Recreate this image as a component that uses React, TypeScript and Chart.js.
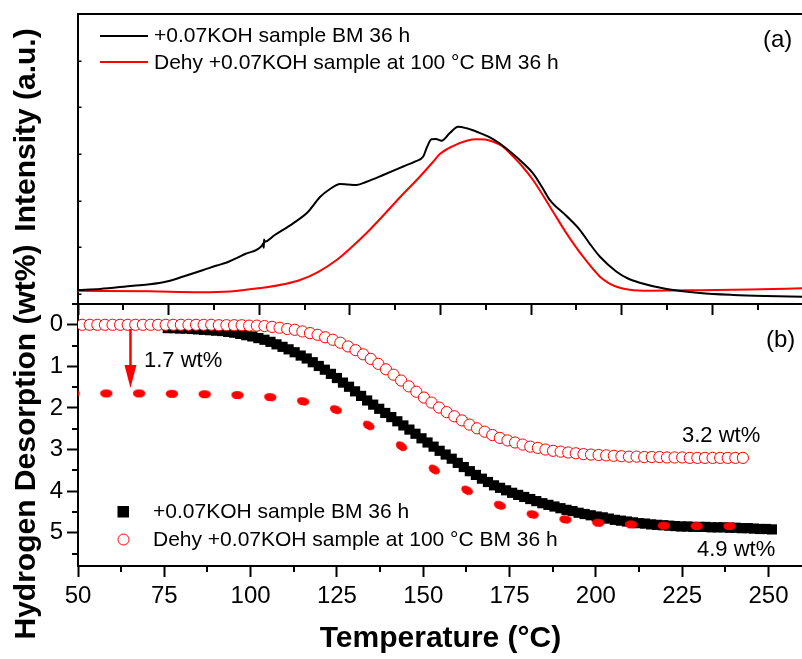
import React, { useEffect, useRef } from "react";
import { Chart, registerables } from "chart.js";

Chart.register(...registerables);

const FONT = "'Liberation Sans', Arial, Helvetica, sans-serif";
Chart.defaults.font.family = FONT;

// ---------- panel (a): TPD intensity ----------
const tprBlackT = [50.0, 56.4, 66.0, 70.8, 75.7, 80.5, 86.3, 90.2, 93.1, 98.4, 103.4, 103.6, 103.8, 103.9, 104.1, 107.0, 112.3, 116.6, 120.1, 123.0, 125.9, 128.2, 130.7, 133.6, 138.4, 144.2, 147.6, 150.0, 151.1, 152.4, 153.7, 155.3, 157.7, 160.1, 162.6, 165.9, 169.3, 172.2, 176.0, 178.9, 181.8, 184.4, 186.7, 191.5, 195.4, 198.3, 201.2, 206.0, 209.3, 212.7, 220.5, 230.1, 239.8, 249.2, 259.9];
const tprBlackI = [0.086, 0.107, 0.178, 0.208, 0.268, 0.375, 0.514, 0.611, 0.675, 0.857, 1.05, 1.08, 0.99, 1.17, 1.12, 1.264, 1.515, 1.757, 2.078, 2.25, 2.357, 2.346, 2.336, 2.406, 2.55, 2.732, 2.839, 2.946, 3.15, 3.315, 3.321, 3.285, 3.45, 3.585, 3.55, 3.465, 3.358, 3.225, 3.0, 2.807, 2.586, 2.293, 2.014, 1.671, 1.371, 1.071, 0.799, 0.478, 0.332, 0.242, 0.107, 0.021, -0.021, -0.043, -0.058];
const tprRedT = [50.0, 70.8, 85.3, 94.0, 99.8, 104.6, 109.9, 114.3, 119.5, 124.9, 129.3, 133.6, 138.3, 143.2, 149.0, 152.8, 154.8, 158.6, 162.6, 165.5, 167.9, 170.3, 172.8, 175.1, 178.6, 181.8, 186.7, 191.5, 196.3, 201.2, 203.5, 206.0, 209.8, 215.6, 230.1, 244.6, 259.9];
const tprRedI = [0.071, 0.058, 0.039, 0.054, 0.101, 0.144, 0.214, 0.3, 0.471, 0.729, 1.007, 1.307, 1.671, 2.068, 2.513, 2.828, 3.0, 3.171, 3.285, 3.315, 3.311, 3.263, 3.171, 3.015, 2.743, 2.443, 1.871, 1.3, 0.799, 0.371, 0.246, 0.156, 0.092, 0.071, 0.081, 0.096, 0.122];

// ---------- panel (b): hydrogen desorption ----------
const milledT = [76, 77.75, 79.5, 81.25, 83, 84.75, 86.5, 88.25, 90, 91.75, 93.5, 95.25, 97, 98.75, 100.5, 102.25, 104, 105.75, 107.5, 109.25, 111, 112.75, 114.5, 116.25, 118, 119.75, 121.5, 123.25, 125, 126.75, 128.5, 130.25, 132, 133.75, 135.5, 137.25, 139, 140.75, 142.5, 144.25, 146, 147.75, 149.5, 151.25, 153, 154.75, 156.5, 158.25, 160, 161.75, 163.5, 165.25, 167, 168.75, 170.5, 172.25, 174, 175.75, 177.5, 179.25, 181, 182.75, 184.5, 186.25, 188, 189.75, 191.5, 193.25, 195, 196.75, 198.5, 200.25, 202, 203.75, 205.5, 207.25, 209, 210.75, 212.5, 214.25, 216, 217.75, 219.5, 221.25, 223, 224.75, 226.5, 228.25, 230, 231.75, 233.5, 235.25, 237, 238.75, 240.5, 242.25, 244, 245.75, 247.5, 249.25, 251];
const milledWt = [0.08, 0.08, 0.09, 0.09, 0.1, 0.11, 0.12, 0.13, 0.14, 0.15, 0.17, 0.19, 0.22, 0.25, 0.28, 0.32, 0.36, 0.41, 0.47, 0.53, 0.59, 0.66, 0.74, 0.81, 0.9, 0.99, 1.08, 1.18, 1.28, 1.39, 1.49, 1.6, 1.71, 1.82, 1.92, 2.02, 2.12, 2.22, 2.32, 2.42, 2.52, 2.62, 2.73, 2.83, 2.93, 3.03, 3.12, 3.22, 3.32, 3.42, 3.52, 3.61, 3.7, 3.78, 3.86, 3.92, 3.98, 4.04, 4.09, 4.14, 4.19, 4.24, 4.29, 4.33, 4.37, 4.41, 4.45, 4.48, 4.52, 4.55, 4.58, 4.61, 4.63, 4.66, 4.69, 4.71, 4.73, 4.75, 4.77, 4.78, 4.8, 4.81, 4.82, 4.83, 4.84, 4.85, 4.85, 4.86, 4.86, 4.86, 4.87, 4.87, 4.87, 4.88, 4.88, 4.89, 4.89, 4.9, 4.91, 4.91, 4.92];
const dehyT = [51.2, 53.4, 55.6, 57.8, 60, 62.2, 64.4, 66.6, 68.8, 71, 73.2, 75.4, 77.6, 79.8, 82, 84.2, 86.4, 88.6, 90.8, 93, 95.2, 97.4, 99.6, 101.8, 104, 106.2, 108.4, 110.6, 112.8, 115, 117.2, 119.4, 121.6, 123.8, 126, 128.2, 130.4, 132.6, 134.8, 137, 139.2, 141.4, 143.6, 145.8, 148, 150.2, 152.4, 154.6, 156.8, 159, 161.2, 163.4, 165.6, 167.8, 170, 172.2, 174.4, 176.6, 178.8, 181, 183.2, 185.4, 187.6, 189.8, 192, 194.2, 196.4, 198.6, 200.8, 203, 205.2, 207.4, 209.6, 211.8, 214, 216.2, 218.4, 220.6, 222.8, 225, 227.2, 229.4, 231.6, 233.8, 236, 238.2, 240.4, 242.6];
const dehyWt = [0, 0, 0, 0, 0, 0, 0, 0, 0, 0, 0, 0, 0, 0, 0, 0, 0, 0, 0.01, 0.01, 0.01, 0.01, 0.02, 0.02, 0.03, 0.05, 0.07, 0.1, 0.12, 0.16, 0.2, 0.24, 0.3, 0.36, 0.43, 0.52, 0.61, 0.71, 0.82, 0.94, 1.07, 1.2, 1.34, 1.48, 1.61, 1.75, 1.87, 1.99, 2.1, 2.2, 2.3, 2.4, 2.49, 2.57, 2.65, 2.72, 2.78, 2.83, 2.88, 2.93, 2.96, 3.0, 3.03, 3.05, 3.07, 3.09, 3.11, 3.12, 3.13, 3.14, 3.15, 3.16, 3.17, 3.17, 3.18, 3.18, 3.18, 3.19, 3.19, 3.19, 3.2, 3.2, 3.2, 3.2, 3.2, 3.2, 3.2, 3.2];
const shiftedT = [48.7, 58.2, 67.7, 77.2, 86.7, 96.2, 105.7, 115.2, 124.7, 134.2, 143.7, 153.2, 162.7, 172.2, 181.7, 191.2, 200.7, 210.2, 219.7, 229.2, 238.7];
const shiftedWt = [1.65, 1.65, 1.65, 1.66, 1.67, 1.69, 1.74, 1.84, 2.04, 2.42, 2.92, 3.48, 3.98, 4.34, 4.56, 4.68, 4.76, 4.8, 4.83, 4.84, 4.84];

// ---------- ticks ----------
const xMajorTicks = [50, 75, 100, 125, 150, 175, 200, 225, 250];
const xMinorTicks = [62.5, 87.5, 112.5, 137.5, 162.5, 187.5, 212.5, 237.5];
const wtMajorTicks = [0, 1, 2, 3, 4, 5];
const wtMinorTicks = [-0.5, 0.5, 1.5, 2.5, 3.5, 4.5, 5.5];
const topXMajor = [50, 76.25, 102.5, 128.75, 155, 181.25, 207.5, 233.75, 260];
const topXMinor = [63.125, 89.375, 115.625, 141.875, 168.125, 194.375, 220.625, 246.875];
const intensityTicks = [0, 1, 2, 3, 4, 5, 6];

// ---------- texts ----------
const seriesNames = ["+0.07KOH sample BM 36 h", "Dehy +0.07KOH sample at 100 °C BM 36 h"];
const arrowT = 65.2;
const arrowFromWt = 0.1;
const arrowToWt = 1.52;
const lossLabel = "1.7 wt%";
const dehyLabel = "3.2 wt%";
const milledLabel = "4.9 wt%";

const pts = (xs: number[], ys: number[]) => xs.map((x, i) => ({ x, y: ys[i] }));

function seg(ctx: CanvasRenderingContext2D, x0: number, y0: number, x1: number, y1: number) {
  ctx.beginPath();
  ctx.moveTo(x0, y0);
  ctx.lineTo(x1, y1);
  ctx.stroke();
}

const topDecor = {
  id: "topDecor",
  afterDraw(chart: any) {
    const { ctx, chartArea: ca, scales } = chart;
    const xs = scales.x, ys = scales.y;
    ctx.save();
    ctx.strokeStyle = "#000";
    ctx.lineWidth = 2;
    seg(ctx, ca.left - 1, ca.top, ca.right + 2, ca.top);
    topXMinor.forEach((v) => {
      const x = Math.round(xs.getPixelForValue(v));
      seg(ctx, x, ca.bottom, x, ca.bottom + 6);
    });
    ctx.lineWidth = 1.5;
    intensityTicks.forEach((v) => {
      const y = Math.round(ys.getPixelForValue(v)) + 0.25;
      seg(ctx, ca.left, y, ca.left + 3.5, y);
    });
    // legend
    ctx.lineWidth = 2;
    ctx.strokeStyle = "#000";
    seg(ctx, 100, 36, 148, 36);
    ctx.strokeStyle = "#ff0000";
    seg(ctx, 100, 62, 148, 62);
    ctx.fillStyle = "#000";
    ctx.font = `21px ${FONT}`;
    ctx.textAlign = "left";
    ctx.textBaseline = "middle";
    ctx.fillText(seriesNames[0], 154, 36);
    ctx.fillText(seriesNames[1], 154, 63);
    ctx.font = `24px ${FONT}`;
    ctx.fillText("(a)", 763, 40);
    // y title
    ctx.font = `bold 30px ${FONT}`;
    ctx.translate(35, 130);
    ctx.rotate(-Math.PI / 2);
    ctx.textAlign = "center";
    ctx.textBaseline = "alphabetic";
    ctx.fillText("Intensity (a.u.)", 0, 0);
    ctx.restore();
  },
};

const bottomDecor = {
  id: "bottomDecor",
  afterDraw(chart: any) {
    const { ctx, chartArea: ca, scales } = chart;
    const xs = scales.x, ys = scales.y;
    ctx.save();
    ctx.strokeStyle = "#000";
    ctx.lineWidth = 2;
    xMinorTicks.forEach((v) => {
      const x = Math.round(xs.getPixelForValue(v));
      seg(ctx, x, ca.bottom, x, ca.bottom + 6);
    });
    wtMinorTicks.forEach((v) => {
      const y = Math.round(ys.getPixelForValue(v));
      seg(ctx, ca.left - 6, y, ca.left, y);
    });
    // arrow
    const ax = xs.getPixelForValue(arrowT);
    const ay0 = ys.getPixelForValue(arrowFromWt);
    const ay1 = ys.getPixelForValue(arrowToWt);
    ctx.strokeStyle = "#ff0000";
    ctx.fillStyle = "#ff0000";
    ctx.lineWidth = 2.5;
    seg(ctx, ax, ay0, ax, ay1 - 20);
    ctx.beginPath();
    ctx.moveTo(ax - 6, ay1 - 23);
    ctx.lineTo(ax + 6, ay1 - 23);
    ctx.lineTo(ax, ay1);
    ctx.closePath();
    ctx.fill();
    // labels
    ctx.fillStyle = "#000";
    ctx.textAlign = "left";
    ctx.textBaseline = "middle";
    ctx.font = `22px ${FONT}`;
    ctx.fillText(lossLabel, 144, 361);
    ctx.fillText(dehyLabel, 682, 436);
    ctx.fillText(milledLabel, 697, 550);
    ctx.font = `24px ${FONT}`;
    ctx.fillText("(b)", 766, 340);
    // legend
    ctx.fillStyle = "#000";
    ctx.fillRect(117.5, 506, 11.5, 11.5);
    ctx.beginPath();
    ctx.arc(123.5, 539.5, 5.5, 0, Math.PI * 2);
    ctx.fillStyle = "#fff";
    ctx.fill();
    ctx.strokeStyle = "#ff0000";
    ctx.lineWidth = 1;
    ctx.stroke();
    ctx.fillStyle = "#000";
    ctx.font = `21px ${FONT}`;
    ctx.fillText(seriesNames[0], 153, 512);
    ctx.fillText(seriesNames[1], 153, 540);
    // y title
    ctx.font = `bold 30px ${FONT}`;
    ctx.translate(35, 442);
    ctx.rotate(-Math.PI / 2);
    ctx.textAlign = "center";
    ctx.textBaseline = "alphabetic";
    ctx.fillText("Hydrogen Desorption (wt%)", 0, 0);
    ctx.restore();
  },
};

function makeEllipse() {
  const c = document.createElement("canvas");
  c.width = 14;
  c.height = 10;
  const g = c.getContext("2d")!;
  g.fillStyle = "#ff0000";
  g.beginPath();
  g.ellipse(7, 5, 6.2, 4.1, 0, 0, Math.PI * 2);
  g.fill();
  return c;
}

export default function App() {
  const topRef = useRef<HTMLCanvasElement>(null);
  const botRef = useRef<HTMLCanvasElement>(null);

  useEffect(() => {
    const shiftedPts = pts(shiftedT, shiftedWt);
    const ellipse = makeEllipse();

    const top = new Chart(topRef.current!, {
      type: "line",
      data: {
        datasets: [
          {
            label: seriesNames[0],
            data: pts(tprBlackT, tprBlackI),
            borderColor: "#000",
            borderWidth: 2,
            pointRadius: 0,
            cubicInterpolationMode: "monotone",
            fill: false,
            clip: 0,
          } as any,
          {
            label: seriesNames[1],
            data: pts(tprRedT, tprRedI),
            borderColor: "#ff0000",
            borderWidth: 2,
            pointRadius: 0,
            cubicInterpolationMode: "monotone",
            fill: false,
            clip: 0,
          } as any,
        ],
      },
      options: {
        animation: false,
        responsive: false,
        maintainAspectRatio: false,
        events: [],
        layout: { padding: { top: 14, right: 7, left: 0, bottom: 0 }, autoPadding: false } as any,
        plugins: { legend: { display: false }, tooltip: { enabled: false } },
        scales: {
          x: {
            type: "linear",
            min: 50,
            max: 260,
            afterBuildTicks: (s: any) => {
              s.ticks = topXMajor.map((v) => ({ value: v }));
            },
            afterFit: (s: any) => {
              s.height = 355;
            },
            ticks: { display: false },
            grid: { display: true, drawOnChartArea: false, drawTicks: true, tickLength: 11, tickWidth: 2, tickColor: "#000" },
            border: { display: true, color: "#000", width: 2 },
          },
          y: {
            type: "linear",
            min: -0.214,
            max: 6,
            afterBuildTicks: (s: any) => {
              s.ticks = intensityTicks.map((v) => ({ value: v }));
            },
            afterFit: (s: any) => {
              s.width = 78;
            },
            ticks: { display: false },
            grid: { display: false },
            border: { display: true, color: "#000", width: 2 },
          },
        },
      } as any,
      plugins: [topDecor],
    });

    const bot = new Chart(botRef.current!, {
      type: "scatter",
      data: {
        datasets: [
          {
            label: seriesNames[1],
            data: pts(dehyT, dehyWt),
            pointStyle: "circle",
            pointRadius: 5.6,
            pointBackgroundColor: "#fff",
            pointBorderColor: "#ff0000",
            pointBorderWidth: 1,
            showLine: false,
            clip: 0,
            order: 1,
          } as any,
          {
            label: "shifted",
            data: shiftedPts,
            pointStyle: ellipse,
            pointRadius: 6,
            pointRotation: (c: any) => {
              const ch = c.chart;
              const i = c.dataIndex;
              if (!ch || !ch.scales || !ch.scales.x || i === undefined) return 0;
              const a = shiftedPts[Math.max(0, i - 1)];
              const b = shiftedPts[Math.min(shiftedPts.length - 1, i + 1)];
              const dx = ch.scales.x.getPixelForValue(b.x) - ch.scales.x.getPixelForValue(a.x);
              const dy = ch.scales.y.getPixelForValue(b.y) - ch.scales.y.getPixelForValue(a.y);
              return (Math.atan2(dy, dx) * 180) / Math.PI;
            },
            showLine: false,
            clip: 0,
            order: 2,
          } as any,
          {
            label: seriesNames[0],
            data: pts(milledT, milledWt),
            pointStyle: "rect",
            pointRadius: 7.2,
            pointBackgroundColor: "#000",
            pointBorderColor: "#000",
            pointBorderWidth: 0,
            showLine: false,
            clip: 0,
            order: 3,
          } as any,
        ],
      },
      options: {
        animation: false,
        responsive: false,
        maintainAspectRatio: false,
        events: [],
        layout: { padding: { top: 304, right: 7, left: 0, bottom: 0 }, autoPadding: false } as any,
        plugins: { legend: { display: false }, tooltip: { enabled: false } },
        scales: {
          x: {
            type: "linear",
            min: 50,
            max: 260,
            afterBuildTicks: (s: any) => {
              s.ticks = xMajorTicks.map((v) => ({ value: v }));
            },
            afterFit: (s: any) => {
              s.height = 93;
            },
            ticks: {
              display: true,
              color: "#000",
              font: { family: FONT, size: 24 },
              padding: 5,
              maxRotation: 0,
              autoSkip: false,
              callback: (v: any) => String(v),
            },
            grid: { display: true, drawOnChartArea: false, drawTicks: true, tickLength: 11, tickWidth: 2, tickColor: "#000" },
            border: { display: true, color: "#000", width: 2 },
            title: {
              display: true,
              text: "Temperature (°C)",
              color: "#000",
              font: { family: FONT, size: 30, weight: "bold" },
              padding: { top: 0, bottom: 2 },
            },
          },
          y: {
            type: "linear",
            reverse: true,
            min: -0.5,
            max: 5.8,
            afterBuildTicks: (s: any) => {
              s.ticks = wtMajorTicks.map((v) => ({ value: v }));
            },
            afterFit: (s: any) => {
              s.width = 78;
            },
            ticks: {
              display: true,
              color: "#000",
              font: { family: FONT, size: 24 },
              padding: 4,
              autoSkip: false,
              callback: (v: any) => String(v),
            },
            grid: { display: true, drawOnChartArea: false, drawTicks: true, tickLength: 11, tickWidth: 2, tickColor: "#000" },
            border: { display: true, color: "#000", width: 2 },
          },
        },
      } as any,
      plugins: [bottomDecor],
    });

    return () => {
      top.destroy();
      bot.destroy();
    };
  }, []);

  const cs: React.CSSProperties = { position: "absolute", left: 0, top: 0, width: 810, height: 659 };
  return (
    <div style={{ position: "fixed", left: 0, top: 0, width: 802, height: 659, overflow: "hidden", background: "#fff" }}>
      <canvas ref={botRef} width={810} height={659} style={cs} />
      <canvas ref={topRef} width={810} height={659} style={cs} />
    </div>
  );
}
